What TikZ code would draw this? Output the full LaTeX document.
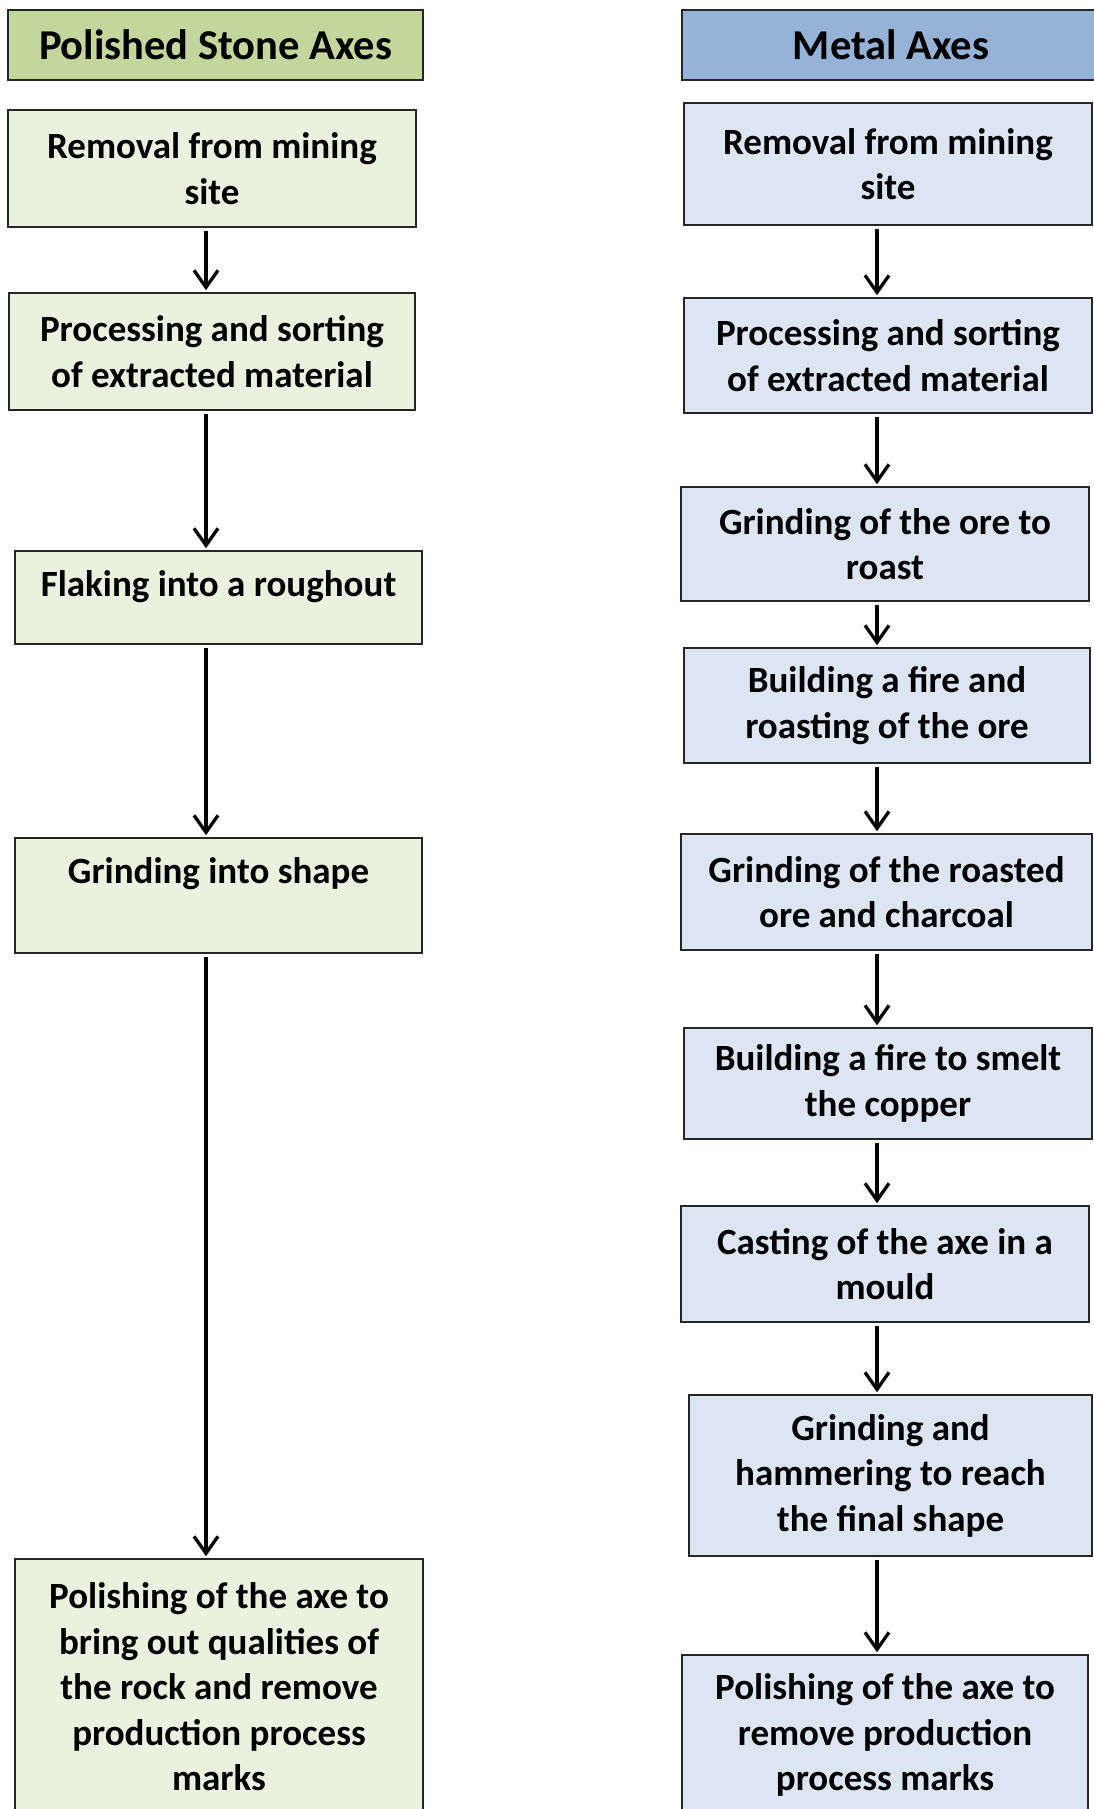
\documentclass[tikz,border=0pt]{standalone}
\usepackage{fontspec}
\setmainfont{Carlito}
\usepackage{tikz}
\usetikzlibrary{arrows.meta, positioning}
\definecolor{stonehead}{HTML}{C3D69B}
\definecolor{stonefill}{HTML}{EBF1DE}
\definecolor{metalhead}{HTML}{95B3D7}
\definecolor{metalfill}{HTML}{DCE6F2}

\begin{document}
\begin{tikzpicture}[x=1pt, y=-1pt, every node/.style={font=\bfseries\fontsize{37}{45.5}\selectfont}]
    % Define styles
    \tikzstyle{stonetitle} = [rectangle, inner sep=0pt, align=center, draw=black!85, fill=stonehead, line width=1.6pt, font=\bfseries\fontsize{42.5}{48}\selectfont]
    \tikzstyle{metaltitle} = [rectangle, inner sep=0pt, align=center, draw=black!85, fill=metalhead, line width=1.6pt, font=\bfseries\fontsize{42.5}{48}\selectfont]
    \tikzstyle{stonestep} = [rectangle, inner sep=0pt, align=center, draw=black!85, fill=stonefill, line width=1.6pt]
    \tikzstyle{metalstep} = [rectangle, inner sep=0pt, align=center, draw=black!85, fill=metalfill, line width=1.6pt]
    \tikzstyle{arrow} = [line width=3.3pt, shorten <=3pt, shorten >=2pt, -{Straight Barb[length=17pt,width=24pt]}]

    \useasboundingbox (0,0) rectangle (1094,1809);
    \fill[white] (0,0) rectangle (1094,1809);

    % Arrow columns
    \coordinate (lx) at (206, 0);
    \coordinate (rx) at (877, 0);

    % Left column: polished stone axes
    \node (lt) [stonetitle, minimum width=415pt, minimum height=70pt] at (215.5, 45) {Polished Stone Axes};
    \node (lb1) [stonestep, minimum width=408pt, minimum height=117pt] at (212, 168.5) {Removal from mining\\site};
    \node (lb2) [stonestep, minimum width=406pt, minimum height=117pt] at (212, 351.5) {Processing and sorting\\of extracted material};
    \node (lb3) [stonestep, minimum width=407pt, minimum height=93pt, text depth=28pt] at (218.5, 597.5) {Flaking into a roughout};
    \node (lb4) [stonestep, minimum width=407pt, minimum height=115pt, text depth=50pt] at (218.5, 895.5) {Grinding into shape};
    \node (lb5) [stonestep, minimum width=408pt, minimum height=256pt] at (219, 1687) {Polishing of the axe to\\bring out qualities of\\the rock and remove\\production process\\marks};

    % Right column: metal axes
    \node (rt) [metaltitle, minimum width=418pt, minimum height=70pt] at (891, 45) {Metal Axes};
    \node (rb1) [metalstep, minimum width=408pt, minimum height=122pt] at (888, 164) {Removal from mining\\site};
    \node (rb2) [metalstep, minimum width=408pt, minimum height=115pt] at (888, 355.5) {Processing and sorting\\of extracted material};
    \node (rb3) [metalstep, minimum width=408pt, minimum height=114pt] at (885, 544) {Grinding of the ore to\\roast};
    \node (rb4) [metalstep, minimum width=406pt, minimum height=115pt] at (887, 705.5) {Building a fire and\\roasting of the ore};
    \node (rb5) [metalstep, minimum width=411pt, minimum height=116pt] at (886.5, 892) {Grinding of the roasted\\ore and charcoal};
    \node (rb6) [metalstep, minimum width=408pt, minimum height=111pt] at (888, 1083.5) {Building a fire to smelt\\the copper};
    \node (rb7) [metalstep, minimum width=408pt, minimum height=116pt] at (885, 1264) {Casting of the axe in a\\mould};
    \node (rb8) [metalstep, minimum width=403pt, minimum height=161pt] at (890.5, 1475.5) {Grinding and\\hammering to reach\\the final shape};
    \node (rb9) [metalstep, minimum width=406pt, minimum height=160pt] at (885, 1735) {Polishing of the axe to\\remove production\\process marks};

    % Left flow
    \draw [arrow] (lb1.south -| lx) -- (lb2.north -| lx);
    \draw [arrow] (lb2.south -| lx) -- (lb3.north -| lx);
    \draw [arrow] (lb3.south -| lx) -- (lb4.north -| lx);
    \draw [arrow] (lb4.south -| lx) -- (lb5.north -| lx);

    % Right flow
    \draw [arrow] (rb1.south -| rx) -- (rb2.north -| rx);
    \draw [arrow] (rb2.south -| rx) -- (rb3.north -| rx);
    \draw [arrow] (rb3.south -| rx) -- (rb4.north -| rx);
    \draw [arrow] (rb4.south -| rx) -- (rb5.north -| rx);
    \draw [arrow] (rb5.south -| rx) -- (rb6.north -| rx);
    \draw [arrow] (rb6.south -| rx) -- (rb7.north -| rx);
    \draw [arrow] (rb7.south -| rx) -- (rb8.north -| rx);
    \draw [arrow] (rb8.south -| rx) -- (rb9.north -| rx);
\end{tikzpicture}
\end{document}
